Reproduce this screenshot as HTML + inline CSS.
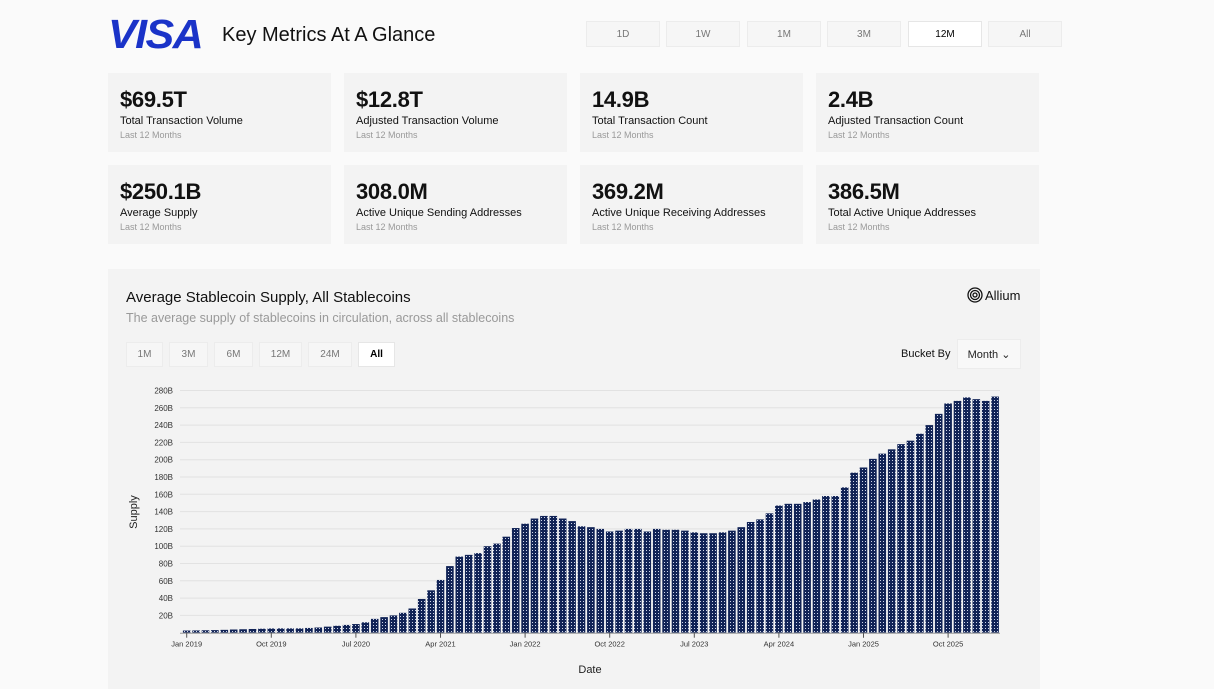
<!DOCTYPE html>
<html><head><meta charset="utf-8">
<style>
*{box-sizing:border-box;margin:0;padding:0}
body{width:1214px;height:682px;background:#fafafa;font-family:"Liberation Sans",sans-serif;position:relative;overflow:hidden;color:#111}
.abs{position:absolute}
.btn{position:absolute;border:1px solid #ececec;background:#f6f6f6;font-size:10px;color:#777;display:flex;align-items:center;justify-content:center}
.btn.on{background:#fff;color:#000;border-color:#e6e6e6}
.card{position:absolute;width:223px;height:79px;background:#f3f3f3;padding:14px 12px}
.card .v{font-size:22px;font-weight:bold;letter-spacing:-0.3px;line-height:26px}
.card .l{font-size:11px;color:#111;margin-top:2px}
.card .s{font-size:9px;color:#999;margin-top:3px}
</style></head><body>
<div class="abs" style="left:108px;top:11px;font-size:41px;font-weight:bold;font-style:italic;color:#1a33c8;letter-spacing:-1.5px;transform:scaleX(1.05);transform-origin:left">VISA</div>
<div class="abs" style="left:222px;top:24px;font-size:20px;color:#111">Key Metrics At A Glance</div>
<div class="btn" style="left:586px;top:21px;width:74px;height:26px">1D</div>
<div class="btn" style="left:666px;top:21px;width:74px;height:26px">1W</div>
<div class="btn" style="left:747px;top:21px;width:74px;height:26px">1M</div>
<div class="btn" style="left:827px;top:21px;width:74px;height:26px">3M</div>
<div class="btn on" style="left:908px;top:21px;width:74px;height:26px">12M</div>
<div class="btn" style="left:988px;top:21px;width:74px;height:26px">All</div>

<div class="card" style="left:108px;top:73px"><div class="v">$69.5T</div><div class="l">Total Transaction Volume</div><div class="s">Last 12 Months</div></div>
<div class="card" style="left:344px;top:73px"><div class="v">$12.8T</div><div class="l">Adjusted Transaction Volume</div><div class="s">Last 12 Months</div></div>
<div class="card" style="left:580px;top:73px"><div class="v">14.9B</div><div class="l">Total Transaction Count</div><div class="s">Last 12 Months</div></div>
<div class="card" style="left:816px;top:73px"><div class="v">2.4B</div><div class="l">Adjusted Transaction Count</div><div class="s">Last 12 Months</div></div>
<div class="card" style="left:108px;top:165px"><div class="v">$250.1B</div><div class="l">Average Supply</div><div class="s">Last 12 Months</div></div>
<div class="card" style="left:344px;top:165px"><div class="v">308.0M</div><div class="l">Active Unique Sending Addresses</div><div class="s">Last 12 Months</div></div>
<div class="card" style="left:580px;top:165px"><div class="v">369.2M</div><div class="l">Active Unique Receiving Addresses</div><div class="s">Last 12 Months</div></div>
<div class="card" style="left:816px;top:165px"><div class="v">386.5M</div><div class="l">Total Active Unique Addresses</div><div class="s">Last 12 Months</div></div>

<div class="abs" style="left:108px;top:269px;width:932px;height:420px;background:#f3f3f3"></div>
<div class="abs" style="left:126px;top:289px;font-size:15px;color:#111">Average Stablecoin Supply, All Stablecoins</div>
<div class="abs" style="left:126px;top:311px;font-size:12.5px;color:#999">The average supply of stablecoins in circulation, across all stablecoins</div>
<div class="abs" style="left:967px;top:287px;font-size:13px;color:#111;display:flex;align-items:center;gap:2px"><svg width="16" height="16" viewBox="0 0 16 16"><circle cx="8" cy="8" r="7" fill="none" stroke="#111" stroke-width="1.3"/><circle cx="8" cy="8" r="4.5" fill="none" stroke="#111" stroke-width="1.3"/><circle cx="8" cy="8" r="2" fill="none" stroke="#111" stroke-width="1.3"/></svg>Allium</div>
<div class="btn" style="left:126px;top:342px;width:37px;height:25px">1M</div>
<div class="btn" style="left:169px;top:342px;width:39px;height:25px">3M</div>
<div class="btn" style="left:214px;top:342px;width:39px;height:25px">6M</div>
<div class="btn" style="left:259px;top:342px;width:43px;height:25px">12M</div>
<div class="btn" style="left:308px;top:342px;width:44px;height:25px">24M</div>
<div class="btn on" style="left:358px;top:342px;width:37px;height:25px;font-weight:bold">All</div>
<div class="abs" style="left:901px;top:348px;font-size:11px;color:#111">Bucket By</div>
<div class="btn" style="left:957px;top:339px;width:64px;height:30px;background:#f8f8f8;color:#222;font-size:11px">Month ⌄</div>

<svg class="abs" style="left:0;top:0" width="1214" height="682">
<defs><pattern id="dots" width="3" height="3" patternUnits="userSpaceOnUse"><rect width="3" height="3" fill="#112356"/><rect x="1" y="1" width="1" height="1" fill="#d0d7ea"/></pattern></defs>
<g id="grid"></g><g id="bars"></g><g id="axes"></g>
</svg>
<script>
const supplyValues=[2.5,2.6,2.8,3,3.3,3.7,4,4.3,4.6,4.9,5,5,5,5.5,6,7,8,9,10,12,16,18,20,23,28,39,49,61,77,88,90,92,100,103,111,121,126,132,135,135,132,129,123,122,120,117,118,120,120,117,120,119,119,118,116,115,115,116,118,122,128,131,138,147,149,149,151,154,158,158,168,185,191,201,207,212,218,222,230,240,253,265,268,272,270,268,273];
const yTicks=[20,40,60,80,100,120,140,160,180,200,220,240,260,280];
const xTickLabels=["Jan 2019","Oct 2019","Jul 2020","Apr 2021","Jan 2022","Oct 2022","Jul 2023","Apr 2024","Jan 2025","Oct 2025"];
const xTickIndex=[0,9,18,27,36,45,54,63,72,81];
const NS="http://www.w3.org/2000/svg";
const x0=186.7,step=9.4,bw=7.6,yBase=632.7,pxPerB=0.865;
const xs=i=>x0+i*step;
const ys=v=>yBase-v*pxPerB;
function mk(tag,attrs,parent){const e=document.createElementNS(NS,tag);for(const k in attrs)e.setAttribute(k,attrs[k]);parent.appendChild(e);return e;}
const grid=document.getElementById('grid'),bars=document.getElementById('bars'),axes=document.getElementById('axes');
yTicks.forEach(t=>{
 const l=mk('line',{x1:180,x2:1000,y1:ys(t),y2:ys(t),stroke:'#e2e2e2','stroke-width':1},grid);
 
 
 const tx=mk('text',{x:173,y:ys(t)+3,'text-anchor':'end','font-size':8,fill:'#333','font-family':'Liberation Sans'},axes);
 tx.textContent=t+'B';
 
 
});
supplyValues.forEach((v,i)=>{
 const r=mk('rect',{x:xs(i)-bw/2,y:ys(v),width:bw,height:yBase-ys(v),fill:'url(#dots)'},bars);
 
 
});
const ax=mk('line',{x1:180,x2:1000,y1:yBase+0.5,y2:yBase+0.5,stroke:'#999','stroke-width':1},axes);


xTickIndex.forEach((ix,k)=>{
 mk('line',{x1:xs(ix),x2:xs(ix),y1:yBase,y2:yBase+5,stroke:'#555'},axes);
 const t=mk('text',{x:xs(ix),y:yBase+14,'text-anchor':'middle','font-size':7.5,fill:'#333','font-family':'Liberation Sans'},axes);
 t.textContent=xTickLabels[k];
 
 
});
const xt=mk('text',{x:590,y:673,'text-anchor':'middle','font-size':11,fill:'#222','font-family':'Liberation Sans'},axes);
xt.textContent='Date';


const yt=mk('text',{x:137,y:512,'text-anchor':'middle','font-size':11,fill:'#222','font-family':'Liberation Sans',transform:'rotate(-90 137 512)'},axes);
yt.textContent='Supply';


</script>
</body></html>
